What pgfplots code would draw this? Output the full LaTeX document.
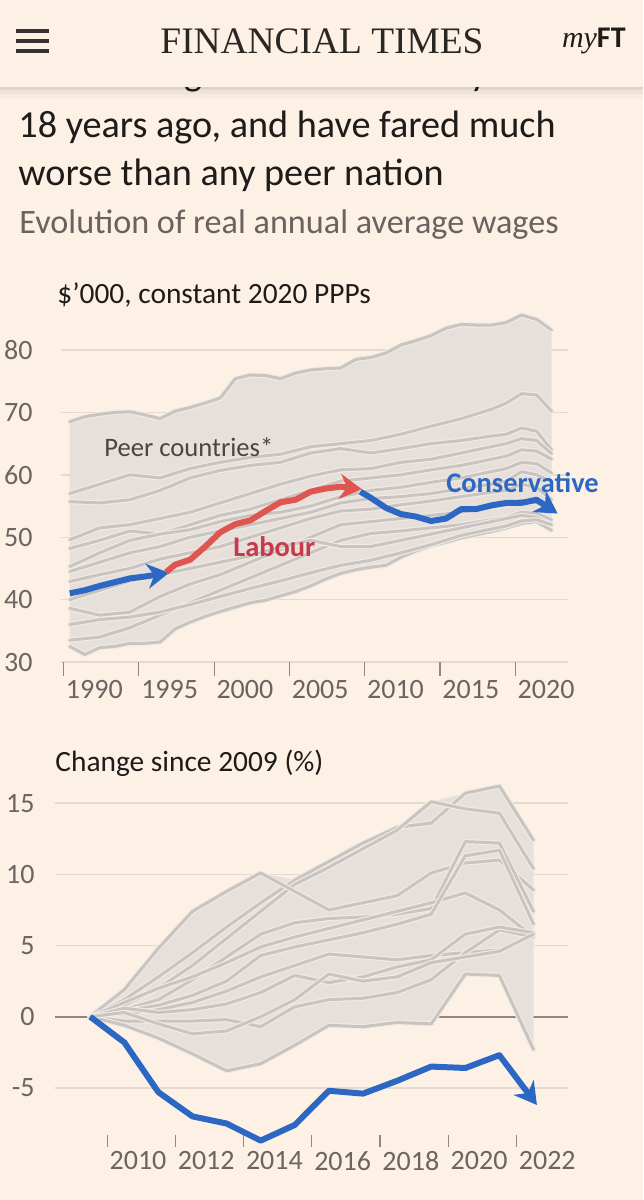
\documentclass[border=0pt]{standalone}
\usepackage{fontspec}
\setmainfont{Carlito}
\newfontfamily\ftserif{Liberation Serif}
\usepackage{pgfplots}
\pgfplotsset{compat=1.18}
\usepackage{pgfplotstable}
\usetikzlibrary{arrows.meta}

\definecolor{bg}{HTML}{FDF1E6}
\definecolor{ink}{HTML}{1E1B19}
\definecolor{sub}{HTML}{69625E}
\definecolor{tickc}{HTML}{6B6460}
\definecolor{tickmark}{HTML}{8E8782}
\definecolor{gridc}{HTML}{E6DACF}
\definecolor{zeroc}{HTML}{8E8681}
\definecolor{band}{HTML}{E7E0DA}
\definecolor{peer}{HTML}{C9C4C0}
\definecolor{halo}{HTML}{F1EBE6}
\definecolor{ukblue}{HTML}{2C68C3}
\definecolor{labred}{HTML}{DE564F}
\definecolor{labtext}{HTML}{C63A4C}
\definecolor{peertext}{HTML}{4A4542}

\newcommand\fs[1]{\fontsize{#1}{#1}\selectfont}

% ---------- top chart: $'000 ----------
\pgfplotstableread{
x    top  bot
1990 68.5 32.5
1991 69.3 31.2
1992 69.7 32.3
1993 70.0 32.5
1994 70.1 33.0
1995 69.6 33.0
1996 69.0 33.2
1997 70.2 35.3
1998 70.8 36.4
1999 71.5 37.3
2000 72.3 38.1
2001 75.4 38.8
2002 76.0 39.5
2003 75.9 39.9
2004 75.4 40.6
2005 76.3 41.3
2006 76.8 42.2
2007 77.0 43.3
2008 77.1 44.2
2009 78.5 44.8
2010 78.8 45.2
2011 79.5 45.5
2012 80.8 46.8
2013 81.5 47.8
2014 82.3 48.6
2015 83.5 49.2
2016 84.1 49.9
2017 84.0 50.4
2018 84.0 50.9
2019 84.4 51.5
2020 85.6 52.2
2021 84.9 52.5
2022 83.2 51.1
}\topenv

\pgfplotstableread{
x    L2   L3   L4   L5   L6   L7   L8   L9   L10  L11  L12
1990 57.0 55.7 49.6 48.2 45.3 44.5 42.9 38.6 33.5 40.0 36.0
1992 58.5 55.5 51.5 49.5 47.5 46.0 44.0 37.5 34.0 41.5 36.8
1994 60.0 56.0 52.0 51.0 49.5 47.5 45.0 38.0 35.5 43.0 37.2
1996 59.5 57.5 53.0 50.5 50.5 48.5 46.5 40.5 37.5 44.0 38.0
1998 61.0 59.5 54.0 52.0 51.2 50.0 47.5 42.5 39.5 45.0 39.2
2000 62.0 60.7 55.5 53.5 52.5 51.0 48.5 44.0 41.5 46.0 40.5
2002 62.8 61.5 57.0 54.5 53.5 52.0 50.0 46.0 43.5 47.0 41.8
2004 63.3 62.0 58.5 56.0 54.0 53.0 51.5 48.0 45.5 48.5 43.0
2006 64.5 63.5 59.8 57.5 55.0 54.0 53.0 50.0 47.5 49.5 44.3
2008 65.0 64.2 60.8 59.0 56.5 55.5 54.2 52.0 49.5 48.5 45.5
2010 65.5 63.5 61.0 59.5 57.5 56.2 54.5 52.5 50.6 48.5 46.3
2012 66.5 64.2 62.0 60.0 58.0 56.5 55.2 53.0 51.0 49.5 47.5
2014 67.8 65.0 62.5 60.8 58.8 57.0 55.8 53.5 51.5 50.5 48.8
2016 69.0 65.5 63.5 61.5 59.5 57.8 56.5 54.0 52.0 51.5 50.3
2018 70.5 66.2 64.5 62.5 60.5 58.5 57.2 54.8 52.8 52.5 51.3
2019 71.5 66.5 65.0 63.0 61.0 59.0 57.5 55.2 53.2 53.0 51.8
2020 73.0 67.5 65.8 64.0 62.0 60.5 58.5 56.0 54.0 53.5 52.6
2021 72.8 67.0 65.5 63.8 61.8 60.0 58.0 55.5 53.8 53.2 52.8
2022 70.2 64.0 63.4 62.5 60.3 58.9 56.0 54.4 52.8 52.0 52.0
}\toplines

% ---------- bottom chart: change since 2009 (%) ----------
\pgfplotstableread{
x    C1   C2   C3   C4   C5   C6   C7   C8   C9   C10  C11
2009 0.0  0.0  0.0  0.0  0.0  0.0  0.0  0.0  0.0  0.0  0.0
2010 1.2  0.8  1.9  0.5  1.0  0.4  0.2  -0.3 0.6  -0.6 0.3
2011 2.8  2.0  4.8  1.2  2.0  0.8  0.5  -0.3 0.3  -1.5 -0.5
2012 4.5  3.6  7.4  2.6  2.8  1.5  1.0  -0.3 0.5  -2.6 -1.2
2013 6.3  5.5  8.8  4.2  3.8  2.5  1.8  -0.2 0.9  -3.8 -1.0
2014 8.0  7.4  10.1 5.8  4.9  4.3  2.8  -0.7 1.7  -3.3 0.0
2015 9.6  9.3  8.8  6.6  5.6  4.9  3.6  0.7  2.9  -2.0 1.2
2016 10.9 10.5 7.5  6.9  6.2  5.4  4.4  1.2  2.4  -0.6 3.0
2017 12.2 11.8 8.0  7.0  6.8  5.9  4.2  1.3  2.8  -0.7 2.5
2018 13.3 13.1 8.5  7.2  7.4  6.5  4.0  1.7  3.5  -0.4 2.8
2019 13.6 15.1 10.1 7.6  8.0  7.2  4.3  2.6  4.0  -0.5 3.8
2020 15.7 14.6 10.8 12.3 8.7  11.3 4.5  4.5  5.8  3.0  4.2
2021 16.2 14.3 11.0 12.2 7.5  11.7 4.7  6.1  6.3  2.9  4.6
2022 12.4 10.4 8.9  7.4  5.6  6.5  nan  5.6  5.9  -2.3 5.8
}\botlines

\tikzset{
  peerline/.style={draw=peer, line width=1.5pt, line join=round, line cap=round,
    preaction={draw=halo, line width=2.6pt}},
  ukline/.style={line width=3pt, line join=round},
  ukarrow/.style={-{Stealth[length=11pt,width=12.5pt,inset=3.5pt]}},
}

\pgfplotsset{
  ftaxis/.style={
    scale only axis, clip=false,
    axis line style={draw=none},
    ymajorgrids, grid style={draw=gridc, line width=0.7pt},
    tick align=outside, major tick length=7pt,
    xtick pos=bottom, ytick pos=left,
    xtick style={draw=tickmark, line width=0.6pt},
    ytick style={draw=none},
    ticklabel style={font=\fs{14pt}, text=tickc},
    xticklabel style={anchor=north west, inner sep=0pt, xshift=1pt},
    yticklabel style={anchor=east, inner sep=0pt},
  }
}

\begin{document}
\begin{tikzpicture}
\begin{scope}[x=0.5pt,y=-0.5pt]
  \fill[bg] (0,0) rectangle (643,1200);
  % first title line, scrolled under the header: only its descenders peek out
  \node[anchor=base west, inner sep=0pt, text=ink, font=\fs{19.1pt}] at (18,85) {UK real wages are lower today than};
  % header bar covering it, with a soft shadow
  \fill[bg] (0,0) rectangle (643,87);
  \fill[black, fill opacity=0.13] (0,87) rectangle (643,89);
  \fill[black, fill opacity=0.08] (0,89) rectangle (643,91);
  \fill[black, fill opacity=0.05] (0,91) rectangle (643,94);
  \fill[black, fill opacity=0.025] (0,94) rectangle (643,98);
  \fill[ink!90] (16,29) rectangle (49,33);
  \fill[ink!90] (16,39) rectangle (49,43);
  \fill[ink!90] (16,49) rectangle (49,53);
  \node[anchor=base, inner sep=0pt, text=ink!95, font=\ftserif\fs{18.7pt}] at (322,53) {FINANCIAL TIMES};
  \node[anchor=base east, inner sep=0pt, text=ink, font=\fs{15pt}] at (626,47) {{\ftserif\itshape my}{\bfseries FT}};
  % titles
  \node[anchor=base west, inner sep=0pt, text=ink, font=\fs{19.1pt}] at (18,137) {18 years ago, and have fared much};
  \node[anchor=base west, inner sep=0pt, text=ink, font=\fs{19.1pt}] at (18,185) {worse than any peer nation};
  \node[anchor=base west, inner sep=0pt, text=sub, font=\fs{17.1pt}] at (19,233) {Evolution of real annual average wages};
  \node[anchor=base west, inner sep=0pt, text=ink, font=\fs{14.7pt}] at (57,303) {\$'000, constant 2020 PPPs};
  \node[anchor=base west, inner sep=0pt, text=ink, font=\fs{14.7pt}] at (55,771) {Change since 2009 (\%)};
\end{scope}

% ================= top chart =================
\begin{axis}[ftaxis,
  at={(30.5pt,-331pt)}, anchor=south west,
  width=253.5pt, height=174.72pt,
  xmin=1989.42, xmax=2023.09, ymin=30, ymax=86,
  ytick={30,40,50,60,70,80}, yticklabels={30,40,50,60,70,80},
  yticklabel style={xshift=-7pt},
  xtick={1989.59,1994.59,1999.59,2004.59,2009.59,2014.59,2019.59},
  xticklabels={1990,1995,2000,2005,2010,2015,2020},
  xticklabel style={yshift=-2pt},
]
  % band of peer countries (upper edge, then lower edge back)
  \addplot[fill=band, draw=none] coordinates {
    (1990,68.5) (1991,69.3) (1992,69.7) (1993,70.0) (1994,70.1) (1995,69.6) (1996,69.0)
    (1997,70.2) (1998,70.8) (1999,71.5) (2000,72.3) (2001,75.4) (2002,76.0) (2003,75.9)
    (2004,75.4) (2005,76.3) (2006,76.8) (2007,77.0) (2008,77.1) (2009,78.5) (2010,78.8)
    (2011,79.5) (2012,80.8) (2013,81.5) (2014,82.3) (2015,83.5) (2016,84.1) (2017,84.0)
    (2018,84.0) (2019,84.4) (2020,85.6) (2021,84.9) (2022,83.2)
    (2022,51.1) (2021,52.5) (2020,52.2) (2019,51.5) (2018,50.9) (2017,50.4) (2016,49.9)
    (2015,49.2) (2014,48.6) (2013,47.8) (2012,46.8) (2011,45.5) (2010,45.2) (2009,44.8)
    (2008,44.2) (2007,43.3) (2006,42.2) (2005,41.3) (2004,40.6) (2003,39.9) (2002,39.5)
    (2001,38.8) (2000,38.1) (1999,37.3) (1998,36.4) (1997,35.3) (1996,33.2) (1995,33.0)
    (1994,33.0) (1993,32.5) (1992,32.3) (1991,31.2) (1990,32.5)} -- cycle;
  \addplot[peerline] table[x=x,y=top]{\topenv};
  \addplot[peerline] table[x=x,y=bot]{\topenv};
  \foreach \c in {L2,L3,L4,L5,L6,L7,L8,L9,L10,L11,L12}{
    \addplot[peerline] table[x=x,y=\c]{\toplines};
  }
  % UK: Conservative (to 1997), Labour (1997-2010), Conservative (2010-)
  \addplot[ukline, ukblue, ukarrow] coordinates {
    (1990,41.0) (1991,41.5) (1992,42.2) (1993,42.8) (1994,43.4) (1995,43.7) (1996.6,44.3)};
  \addplot[ukline, labred, ukarrow] coordinates {
    (1996.4,44.4) (1997,45.6) (1998,46.4) (1999,48.5) (2000,50.8) (2001,52.1) (2002,52.7)
    (2003,54.2) (2004,55.6) (2005,56.0) (2006,57.3) (2007,57.8) (2008,58.1) (2009.4,57.7)};
  \addplot[ukline, ukblue, ukarrow] coordinates {
    (2009.3,57.3) (2010,56.3) (2011,54.7) (2012,53.7) (2013,53.3) (2014,52.6) (2015,53.0)
    (2016,54.5) (2017,54.5) (2018,55.1) (2019,55.5) (2020,55.5) (2021,56.0) (2022.4,53.8)};
\end{axis}

% ================= bottom chart =================
\begin{axis}[ftaxis,
  at={(27.5pt,-567.5pt)}, anchor=south west,
  width=256.5pt, height=176.6pt,
  xmin=2007.968, xmax=2023.011, ymin=-8.307, ymax=16.5,
  ytick={-5,5,10,15}, yticklabels={-5,5,10,15},
  extra y ticks={0}, extra y tick labels={0},
  extra y tick style={grid style={draw=zeroc, line width=1pt}},
  yticklabel style={xshift=-4pt},
  xtick={2009.5,2011.5,2013.5,2015.5,2017.5,2019.5,2021.5},
  xticklabels={2010,2012,2014,2016,2018,2020,2022},
  major tick length=6pt,
  xticklabel style={yshift=-2pt},
]
  \addplot[fill=band, draw=none] coordinates {
    (2009,0) (2010,1.9) (2011,4.8) (2012,7.4) (2013,8.8) (2014,10.1) (2015,9.6)
    (2016,10.9) (2017,12.2) (2018,13.3) (2019,15.1) (2020,15.7) (2021,16.2) (2022,12.4)
    (2022,-2.3) (2021,2.9) (2020,3.0) (2019,-0.5) (2018,-0.4) (2017,-0.7) (2016,-0.6)
    (2015,-2.0) (2014,-3.3) (2013,-3.8) (2012,-2.6) (2011,-1.5) (2010,-0.6) (2009,0)} -- cycle;
  \foreach \c in {C1,C2,C3,C4,C5,C6,C7,C8,C9,C10,C11}{
    \addplot[peerline] table[x=x,y=\c]{\botlines};
  }
  \addplot[ukline, ukblue, ukarrow] coordinates {
    (2009,0) (2010,-1.8) (2011,-5.3) (2012,-7.0) (2013,-7.5) (2014,-8.7) (2015,-7.6)
    (2016,-5.2) (2017,-5.4) (2018,-4.5) (2019,-3.5) (2020,-3.6) (2021,-2.7) (2022.1,-6.2)};
\end{axis}

\begin{scope}[x=0.5pt,y=-0.5pt]
  \node[anchor=west, inner sep=0pt, text=peertext, font=\fs{13.3pt}] at (104,447) {Peer countries*};
  \node[anchor=west, inner sep=0pt, text=labtext, font=\bfseries\fs{14.2pt}] at (233,547) {Labour};
  \node[anchor=west, inner sep=0pt, text=ukblue, font=\bfseries\fs{14.2pt}] at (446,483) {Conservative};
\end{scope}

\pgfresetboundingbox
\path[use as bounding box] (0,0) rectangle (321.5pt,-600pt);
\end{tikzpicture}
\end{document}
